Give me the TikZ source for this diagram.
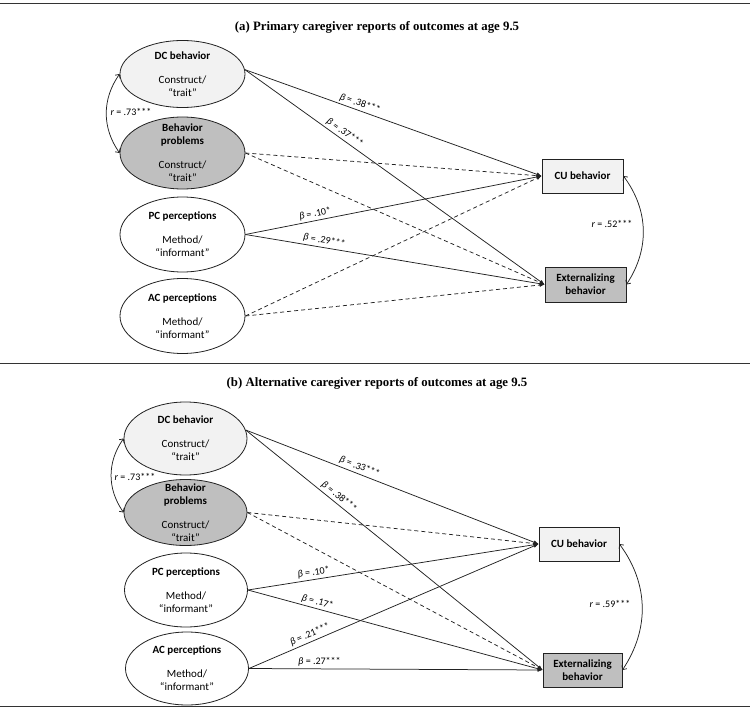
\documentclass[tikz,border=0pt]{standalone}
\usepackage{fontspec}
\setmainfont{Carlito}
\newfontfamily\titlefont{Liberation Serif}
\usetikzlibrary{arrows.meta,shapes.geometric}
\definecolor{lightfill}{HTML}{F2F2F2}
\definecolor{darkfill}{HTML}{BFBFBF}
\definecolor{ink}{HTML}{222222}
\begin{document}
\begin{tikzpicture}[x=1pt,y=-1pt,
  lat/.style={ellipse, draw=ink, line width=0.8pt, inner sep=0pt},
  lattext/.style={inner sep=0pt, align=center, font=\fontsize{11}{13}\selectfont},
  obs/.style={rectangle, draw=ink, line width=0.8pt, inner sep=0pt, align=center, font=\bfseries\fontsize{11}{13}\selectfont},
  sig/.style={draw=ink, line width=0.75pt, -{Latex[length=5pt,width=4pt]}},
  nonsig/.style={sig, dash pattern=on 4pt off 3pt},
  coef/.style={font=\fontsize{10}{11}\selectfont, sloped, above, inner sep=2pt},
  corrlbl/.style={font=\fontsize{10}{11}\selectfont, inner sep=0pt},
  corr/.style={draw=ink, line width=0.75pt, {Straight Barb[length=3pt,width=6pt]}-{Straight Barb[length=3pt,width=6pt]}},
  rulestyle/.style={draw=black!80, line width=1pt},
  paneltitle/.style={font=\titlefont\bfseries\fontsize{12.8}{14}\selectfont, inner sep=0pt}]
\useasboundingbox (0,0) rectangle (754,711);

% rules
\coordinate (r1a) at (0,4); \coordinate (r1b) at (750,4);
\coordinate (r2a) at (0,363); \coordinate (r2b) at (750,363);
\coordinate (r3a) at (0,706); \coordinate (r3b) at (750,706);
\draw[rulestyle] (r1a) -- (r1b);
\draw[rulestyle] (r2a) -- (r2b);
\draw[rulestyle] (r3a) -- (r3b);

% ---------------- Panel (a) ----------------
\node[paneltitle] (titleA) at (377,27) {(a) Primary caregiver reports of outcomes at age 9.5};

\node[lat, fill=lightfill, minimum width=125pt, minimum height=67pt] (dcA) at (182.5,74) {};
\node[lattext] (dcAt) at (dcA.center) {\textbf{DC behavior}\\[11pt]Construct/\\“trait”};
\node[lat, fill=darkfill, minimum width=125pt, minimum height=72pt] (bpA) at (182.5,153) {};
\node[lattext] (bpAt) at (bpA.center) {\textbf{Behavior}\\\textbf{problems}\\[11pt]Construct/\\“trait”};
\node[lat, fill=white, minimum width=125pt, minimum height=75pt] (pcA) at (182.5,234.5) {};
\node[lattext] (pcAt) at (pcA.center) {\textbf{PC perceptions}\\[11pt]Method/\\“informant”};
\node[lat, fill=white, minimum width=125pt, minimum height=75pt] (acA) at (182.5,316) {};
\node[lattext] (acAt) at (acA.center) {\textbf{AC perceptions}\\[11pt]Method/\\“informant”};

\node[obs, fill=lightfill, minimum width=81pt, minimum height=34pt] (cuA) at (582.5,176) {CU behavior};
\node[obs, fill=darkfill, minimum width=81pt, minimum height=35pt] (exA) at (585.5,284.5) {Externalizing\\behavior};

\draw[sig] (dcA.4) -- node[coef, pos=0.38] {\textit{β} = .38***} (cuA.west);
\draw[sig] (dcA.4) -- node[coef, pos=0.32] {\textit{β} = .37***} (exA.west);
\draw[nonsig] (bpA.east) -- (cuA.west);
\draw[nonsig] (bpA.east) -- (exA.west);
\draw[sig] (pcA.east) -- node[coef, pos=0.24] {\textit{β} = .10*} (cuA.west);
\draw[sig] (pcA.east) -- node[coef, pos=0.26] {\textit{β} = .29***} (exA.west);
\draw[nonsig] (acA.east) -- (cuA.west);
\draw[nonsig] (acA.east) -- (exA.west);

\draw[corr] (dcA.west) to[bend right=35] (bpA.west);
\node[corrlbl] (rA1) at (131,112) {\textit{r} = .73***};
\draw[corr] (cuA.east) to[bend left=35] (exA.east);
\node[corrlbl] (rA2) at (612,224) {\textit{r} = .52***};

% ---------------- Panel (b) ----------------
\node[paneltitle] (titleB) at (377,383) {(b) Alternative caregiver reports of outcomes at age 9.5};

\node[lat, fill=lightfill, minimum width=123pt, minimum height=73pt] (dcB) at (185.5,438.5) {};
\node[lattext] (dcBt) at (dcB.center) {\textbf{DC behavior}\\[11pt]Construct/\\“trait”};
\node[lat, fill=darkfill, minimum width=123pt, minimum height=66pt] (bpB) at (185.5,512.5) {};
\node[lattext] (bpBt) at (bpB.center) {\textbf{Behavior}\\\textbf{problems}\\[11pt]Construct/\\“trait”};
\node[lat, fill=white, minimum width=123pt, minimum height=74pt] (pcB) at (186,590) {};
\node[lattext] (pcBt) at (pcB.center) {\textbf{PC perceptions}\\[11pt]Method/\\“informant”};
\node[lat, fill=white, minimum width=123pt, minimum height=73pt] (acB) at (187,668.5) {};
\node[lattext] (acBt) at (acB.center) {\textbf{AC perceptions}\\[11pt]Method/\\“informant”};

\node[obs, fill=lightfill, minimum width=80pt, minimum height=34pt] (cuB) at (579,544) {CU behavior};
\node[obs, fill=darkfill, minimum width=79pt, minimum height=34pt] (exB) at (582.5,670) {Externalizing\\behavior};

\draw[sig] (dcB.8) -- node[coef, pos=0.38] {\textit{β} = .33***} (cuB.west);
\draw[sig] (dcB.8) -- node[coef, pos=0.30] {\textit{β} = .38***} (exB.west);
\draw[nonsig] (bpB.east) -- (cuB.west);
\draw[nonsig] (bpB.east) -- (exB.west);
\draw[sig] (pcB.east) -- node[coef, pos=0.23] {\textit{β} = .10*} (cuB.west);
\draw[sig] (pcB.east) -- node[coef, pos=0.23] {\textit{β} = .17*} (exB.west);
\draw[sig] (acB.east) -- node[coef, pos=0.22] {\textit{β} = .21***} (cuB.west);
\draw[sig] (acB.east) -- node[coef, pos=0.24] {\textit{β} = .27***} (exB.west);

\draw[corr] (dcB.west) to[bend right=35] (bpB.west);
\node[corrlbl] (rB1) at (135,477) {\textit{r} = .73***};
\draw[corr] (cuB.east) to[bend left=35] (exB.east);
\node[corrlbl] (rB2) at (610,604) {\textit{r} = .59***};
\end{tikzpicture}
\end{document}
